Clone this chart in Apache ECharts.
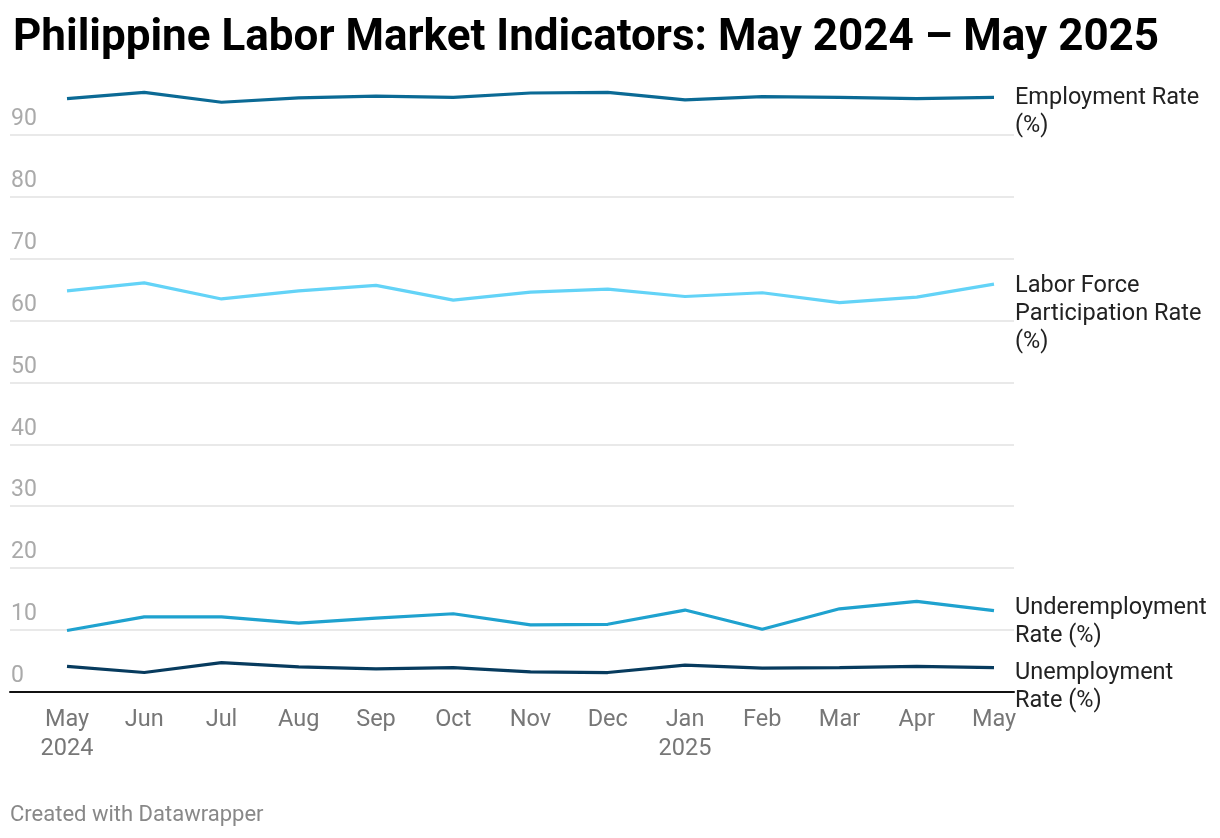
<!DOCTYPE html>
<html>
<head>
<meta charset="utf-8">
<script src="https://cdn.jsdelivr.net/npm/echarts@6/dist/echarts.min.js"></script>
<style>
html,body{margin:0;padding:0;background:#fff;}
#c{width:1220px;height:838px;}
</style>
</head>
<body>
<div id="c"></div>
<script>
const months = ['May\n2024','Jun','Jul','Aug','Sep','Oct','Nov','Dec','Jan\n2025','Feb','Mar','Apr','May'];
const employmentRate = [95.9, 96.9, 95.3, 96.0, 96.3, 96.1, 96.8, 96.9, 95.7, 96.2, 96.1, 95.9, 96.1];
const lfpr = [64.8, 66.1, 63.5, 64.8, 65.7, 63.3, 64.6, 65.1, 63.9, 64.5, 62.9, 63.8, 65.9];
const underemploymentRate = [9.9, 12.1, 12.1, 11.1, 11.9, 12.6, 10.8, 10.9, 13.2, 10.1, 13.4, 14.6, 13.1];
const unemploymentRate = [4.1, 3.1, 4.7, 4.0, 3.7, 3.9, 3.2, 3.1, 4.3, 3.8, 3.9, 4.1, 3.9];
const yTicks = [0, 10, 20, 30, 40, 50, 60, 70, 80, 90];

const FONT = 'Roboto, "Noto Sans", sans-serif';
const chart = echarts.init(document.getElementById('c'), null, {renderer: 'canvas'});

function lineSeries(name, data, color, offY) {
  return {
    name: name, type: 'line', xAxisIndex: 1, yAxisIndex: 1,
    data: data, symbol: 'none', smooth: false,
    lineStyle: {color: color, width: 3.2},
    itemStyle: {color: color},
    emphasis: {disabled: true},
    animation: false,
    endLabel: {
      show: true, formatter: name, color: '#222', fontFamily: FONT,
      fontSize: 23.5, lineHeight: 28, align: 'left', verticalAlign: 'top',
      distance: 21, offset: [0, offY]
    }
  };
}

const option = {
  animation: false,
  title: {
    text: 'Philippine Labor Market Indicators: May 2024 \u2013 May 2025',
    left: 8, top: 12,
    textStyle: {fontFamily: FONT, fontSize: 44, fontWeight: 'bold', color: '#000'}
  },
  grid: [
    {left: 10, right: 206, top: 73.2, bottom: 146.3},
    {left: 67, right: 226, top: 73.2, bottom: 146.3}
  ],
  xAxis: [
    {gridIndex: 0, type: 'value', min: 0, max: 1, axisLabel: {show: false}, axisTick: {show: false},
     splitLine: {show: false}, axisLine: {show: true, lineStyle: {color: '#111', width: 2}}},
    {gridIndex: 1, type: 'category', data: months, boundaryGap: false,
     axisLine: {show: false}, axisTick: {show: false}, splitLine: {show: false},
     axisLabel: {color: '#777', fontFamily: FONT, fontSize: 23.5, lineHeight: 29, margin: 14, interval: 0}}
  ],
  yAxis: [
    {gridIndex: 0, type: 'value', min: 0, max: 100, interval: 10,
     axisLine: {show: false}, axisTick: {show: false},
     splitLine: {show: true, showMinLine: false, showMaxLine: false, lineStyle: {color: '#e2e2e2', width: 1.5}},
     axisLabel: {inside: true, margin: 1, color: '#aaa', fontFamily: FONT, fontSize: 23,
       verticalAlign: 'bottom', padding: [0, 0, 4, 0],
       formatter: function (v) { return yTicks.indexOf(v) >= 0 ? String(v) : ''; }}},
    {gridIndex: 1, type: 'value', min: 0, max: 100, interval: 10, show: false}
  ],
  series: [
    lineSeries('Employment Rate\n(%)', employmentRate, '#0b6a95', -13),
    lineSeries('Labor Force\nParticipation Rate\n(%)', lfpr, '#63d3f7', -12),
    lineSeries('Underemployment\nRate (%)', underemploymentRate, '#1fa2cf', -17),
    lineSeries('Unemployment\nRate (%)', unemploymentRate, '#073b5e', -8)
  ],
  graphic: [
    {type: 'text', left: 10, top: 804,
     style: {text: 'Created with Datawrapper', fill: '#888', fontFamily: FONT, fontSize: 22}}
  ]
};
chart.setOption(option);
</script>
</body>
</html>
